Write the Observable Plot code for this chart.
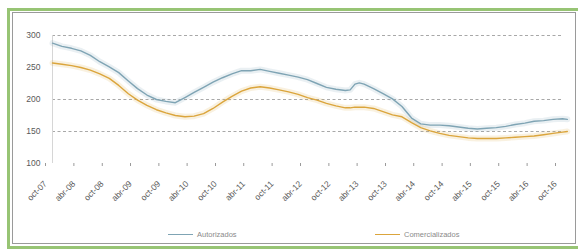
<!DOCTYPE html>
<html>
<head>
<meta charset="utf-8">
<script src="https://cdn.jsdelivr.net/npm/d3@7"></script>
<script src="https://cdn.jsdelivr.net/npm/@observablehq/plot@0.6"></script>
<style>
  body { margin: 0; background: #fff; font-family: "Liberation Sans", Arial, sans-serif; }
  #wrap { position: relative; width: 578px; height: 252px; overflow: hidden; background: #fff; }
  #green { position: absolute; left: 7px; top: 8px; width: 574px; height: 241px; box-sizing: border-box; border: 3px solid #97c474; pointer-events: none; }
  #gray { position: absolute; left: 12px; top: 12px; width: 564px; height: 232px; box-sizing: border-box; border: 1px solid #9a9a9a; pointer-events: none; }
  #chart { position: absolute; left: 0; top: 0; }
  .leg { position: absolute; top: 230px; font-size: 7.5px; color: #8a8a8a; display: flex; align-items: center; white-space: nowrap; }
  .leg i { display: inline-block; width: 25px; height: 0; border-top: 1.5px solid; margin-right: 4px; }
</style>
</head>
<body>
<div id="wrap">
  <div id="chart"></div>
  <div id="green"></div>
  <div id="gray"></div>
  <div id="legend"></div>
</div>
<script>
const months = ["2007-10","2007-12","2008-02","2008-04","2008-06","2008-08","2008-10","2008-12",
  "2009-02","2009-04","2009-06","2009-08","2009-10","2009-12","2010-02","2010-04","2010-06","2010-08",
  "2010-10","2010-12","2011-02","2011-04","2011-06","2011-08","2011-10","2011-12","2012-02","2012-04",
  "2012-06","2012-08","2012-10","2012-12","2013-01","2013-02","2013-03","2013-04","2013-06","2013-08",
  "2013-10","2013-12","2014-02","2014-04","2014-06","2014-08","2014-10","2014-12","2015-02","2015-04",
  "2015-06","2015-08","2015-10","2015-12","2016-02","2016-04","2016-06","2016-08","2016-10","2016-11"];
const autorizados = [288,283,280,276,269,259,251,242,
  229,217,207,200,197,195,203,211,219,227,
  234,240,245,245,247,244,241,238,235,231,
  225,219,216,214,215,224,226,224,217,209,
  201,189,171,162,160,160,159,157,155,154,
  155,156,158,161,163,166,167,169,170,169];
const comercializados = [257,255,253,250,246,240,233,222,
  209,199,191,184,179,175,173,174,178,186,
  196,205,213,218,220,218,215,212,208,203,
  199,194,190,187,187,188,188,188,186,181,
  176,173,164,156,151,147,144,142,140,139,
  139,139,140,141,142,143,145,147,149,150];
const seriesNames = ["Autorizados", "Comercializados"];
const seriesColors = ["#7fa4b4", "#dba53c"];
const tickMonths = ["2007-10","2008-04","2008-10","2009-04","2009-10","2010-04","2010-10","2011-04",
  "2011-10","2012-04","2012-10","2013-04","2013-10","2014-04","2014-10","2015-04","2015-10","2016-04","2016-10"];
const tickLabels = ["oct-07","abr-08","oct-08","abr-09","oct-09","abr-10","oct-10","abr-11",
  "oct-11","abr-12","oct-12","abr-13","oct-13","abr-14","oct-14","abr-15","oct-15","abr-16","oct-16"];
const yTicks = [100, 150, 200, 250, 300];
const gridValues = [150, 200, 300];

const parse = d3.utcParse("%Y-%m");
const rows = months.flatMap((m, i) => [
  {date: parse(m), value: autorizados[i], serie: seriesNames[0]},
  {date: parse(m), value: comercializados[i], serie: seriesNames[1]}
]);
const tickDates = tickMonths.map(parse);
const labelOf = new Map(tickDates.map((d, i) => [+d, tickLabels[i]]));

const chart = Plot.plot({
  width: 578,
  height: 215,
  marginLeft: 52,
  marginRight: 16,
  marginTop: 35,
  marginBottom: 52,
  style: {fontFamily: "'Liberation Sans', Arial, sans-serif", fontSize: "8.5px", background: "transparent", color: "#595959"},
  x: {type: "utc", domain: [tickDates[0], tickDates[tickDates.length - 1]]},
  y: {domain: [100, 300]},
  color: {domain: seriesNames, range: seriesColors},
  marks: [
    Plot.ruleY(gridValues, {stroke: "#a8a8a8", strokeDasharray: "3,2.5", strokeWidth: 1}),
    Plot.ruleX([tickDates[0]], {stroke: "#d6d6d6"}),
    Plot.axisY({ticks: yTicks, tickSize: 0, tickPadding: 12, label: null, fill: "#595959"}),
    Plot.axisX({ticks: tickDates, tickFormat: d => labelOf.get(+d), tickRotate: -45, tickSize: 3,
      tickPadding: 16, dx: -7, label: null, stroke: "#9a9a9a", fill: "#595959"}),
    Plot.lineY(rows, {x: "date", y: "value", z: "serie", stroke: "serie", strokeWidth: 6, strokeOpacity: 0.16}),
    Plot.lineY(rows, {x: "date", y: "value", z: "serie", stroke: "serie", strokeWidth: 1.4})
  ]
});
document.getElementById("chart").appendChild(chart);

const legend = document.getElementById("legend");
const legendLeft = [168, 375];
seriesNames.forEach((name, i) => {
  const div = document.createElement("div");
  div.className = "leg";
  div.style.left = legendLeft[i] + "px";
  const sw = document.createElement("i");
  sw.style.borderColor = seriesColors[i];
  div.appendChild(sw);
  div.appendChild(document.createTextNode(name));
  legend.appendChild(div);
});
</script>
</body>
</html>
